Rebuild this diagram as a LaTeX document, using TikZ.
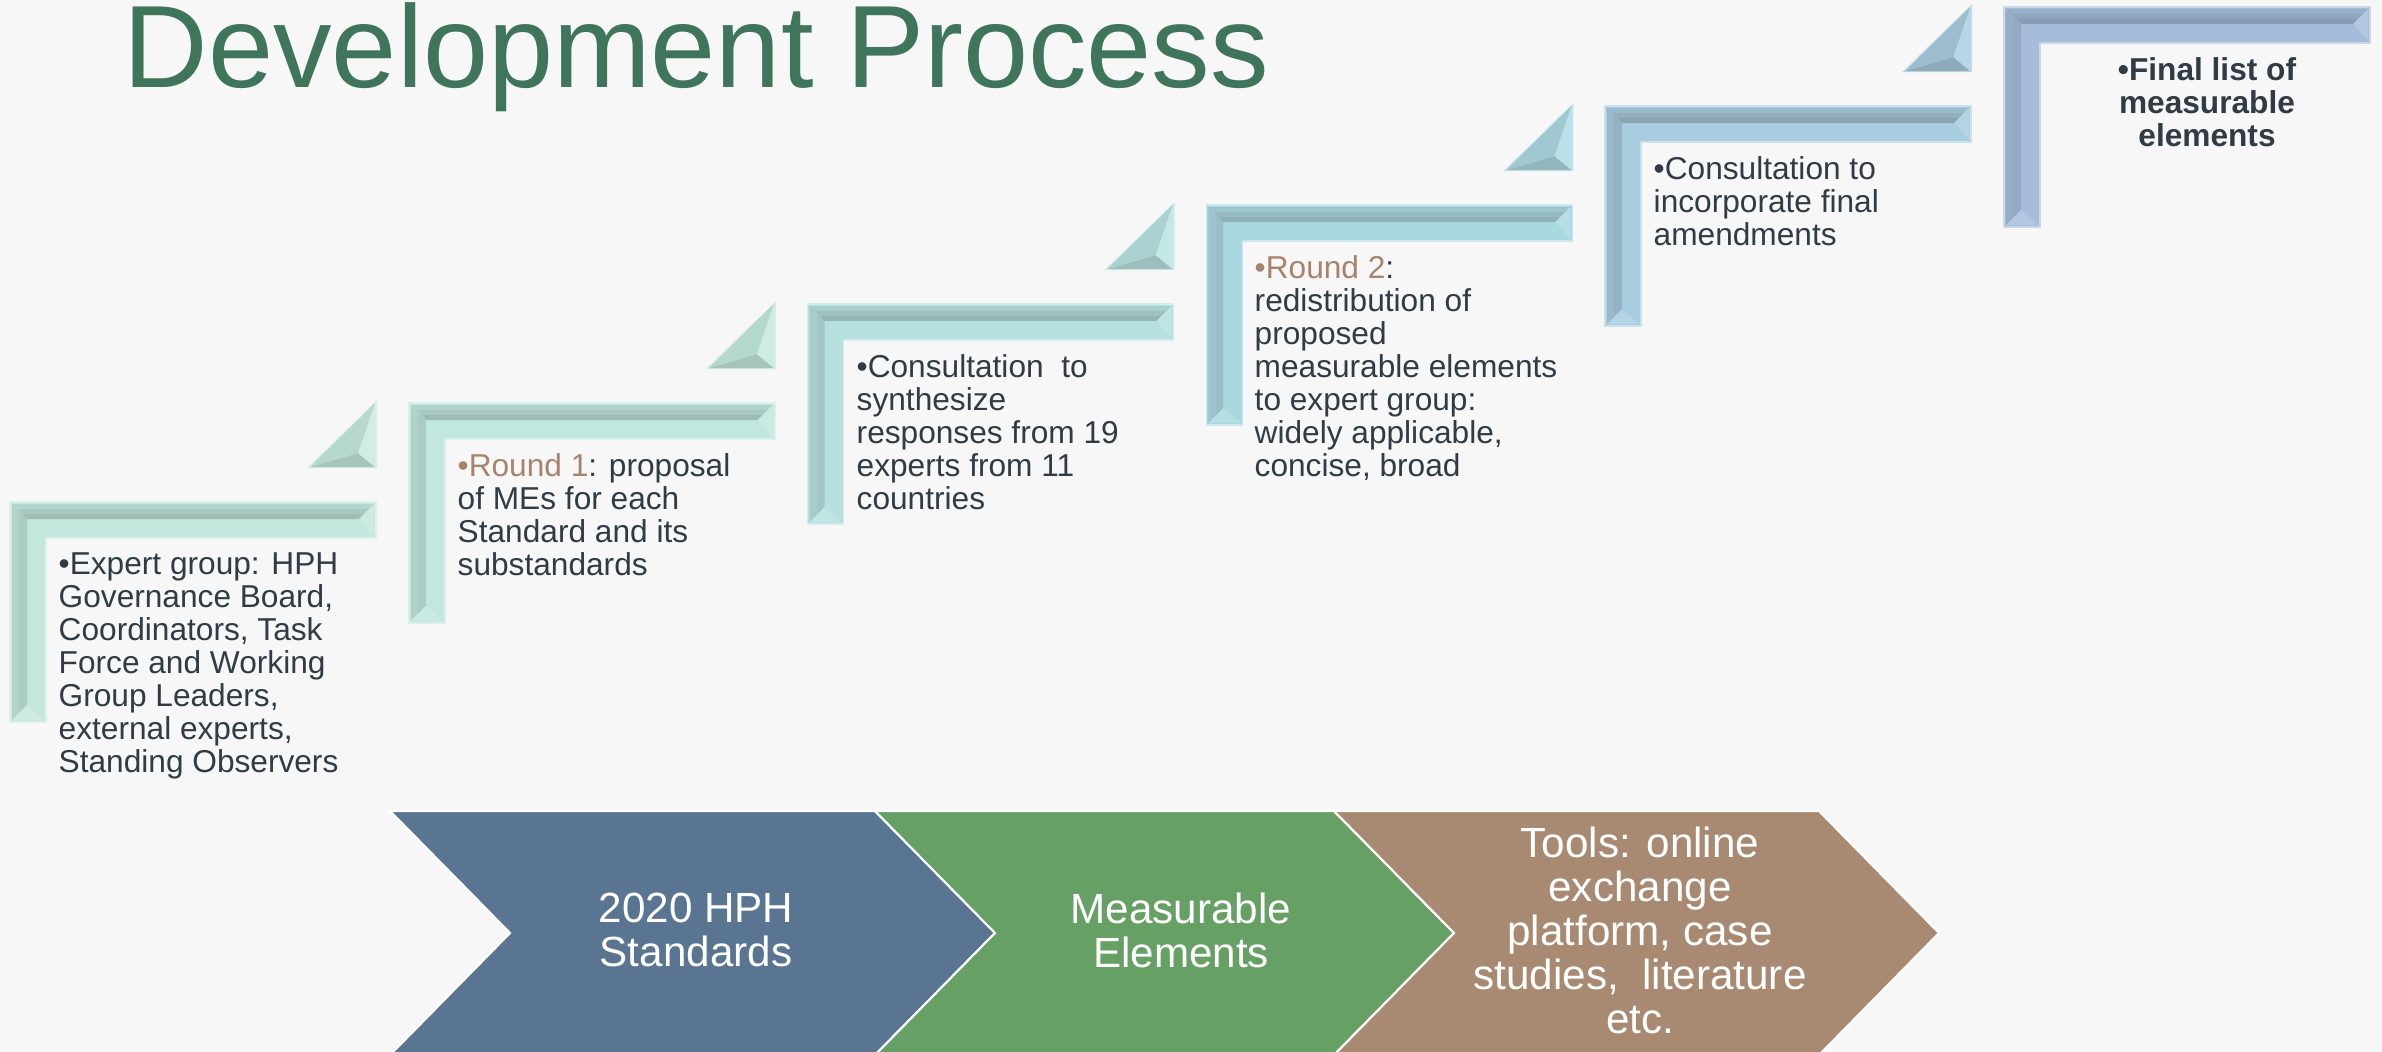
\documentclass[tikz,border=0pt]{standalone}
\usepackage{fontspec}
\setmainfont{Liberation Sans}
\usepackage{xcolor}
\usepackage{tikz}
\definecolor{paper}{HTML}{F7F7F7}
\definecolor{titlegreen}{HTML}{3E755B}
\definecolor{inkdark}{HTML}{2F3C46}
\definecolor{roundbrown}{HTML}{A8836C}
\definecolor{chevblue}{HTML}{5A7591}
\definecolor{chevgreen}{HTML}{66A064}
\definecolor{chevbrown}{HTML}{A88A72}
% frame colours, mint at the first step to steel blue at the last
\definecolor{faceA}{HTML}{C4E8DE}
\definecolor{darkA}{HTML}{97B2AA}
\definecolor{faceB}{HTML}{C1E7DE}
\definecolor{darkB}{HTML}{95B1AA}
\definecolor{faceC}{HTML}{B6E1DF}
\definecolor{darkC}{HTML}{8FABAA}
\definecolor{faceD}{HTML}{AAD8E0}
\definecolor{darkD}{HTML}{88A4AA}
\definecolor{faceE}{HTML}{A8CCE0}
\definecolor{darkE}{HTML}{8299A7}
\definecolor{faceF}{HTML}{A5BDDA}
\definecolor{darkF}{HTML}{7F93AB}

\tikzset{
  steptext/.style={font=\fontsize{9}{9.4}\selectfont, text=inkdark, align=left, inner sep=0pt, anchor=north west},
  chevtext/.style={font=\fontsize{12}{12.5}\selectfont, text=white, align=center, inner sep=0pt},
  chevron/.style={draw=white, line width=0.6pt, line join=miter},
}

\begin{document}
\begin{tikzpicture}[x=0.01cm, y=-0.01cm]
\fill[paper] (0,0) rectangle (2382,1051);
\useasboundingbox (0,0) rectangle (2382,1051);

\node[font=\fontsize{33.3}{40}\selectfont, text=titlegreen, anchor=north west, inner sep=0pt] (title) at (123,2) {Development Process};

% bevelled corner frames, climbing to the right
\foreach \i/\s in {0/A,1/B,2/C,3/D,4/E,5/F} {
  \begin{scope}[shift={({10+398.8*\i},{502-99*\i})}]
    \fill[face\s, draw=face\s!60!white, line width=0.5pt]
      (0,0) -- (366,0) -- (366,36) -- (36,36) -- (36,220) -- (0,220) -- cycle;
    % top bevel, darkening inwards
    \fill[face\s!65!dark\s] (2,2) -- (364,2) -- (359,7) -- (7,7) -- cycle;
    \fill[face\s!42!dark\s] (7,7) -- (359,7) -- (354,12) -- (12,12) -- cycle;
    \fill[face\s!22!dark\s] (12,12) -- (354,12) -- (349,17) -- (17,17) -- cycle;
    % left bevel
    \fill[face\s!62!dark\s] (2,2) -- (9,9) -- (9,211) -- (2,218) -- cycle;
    \fill[face\s!50!dark\s] (9,9) -- (17,17) -- (17,203) -- (9,211) -- cycle;
    % end caps
    \fill[face\s!85!white] (349,17) -- (364,2) -- (364,34) -- cycle;
    \fill[face\s!85!white] (17,203) -- (2,218) -- (34,218) -- cycle;
  \end{scope}
}

% small bevelled corners above each frame
\foreach \i/\s in {0/A,1/B,2/C,3/D,4/E} {
  \begin{scope}[shift={({10+398.8*\i},{502-99*\i})}]
    \fill[face\s!70!white] (297,-34) -- (367,-34) -- (367,-102) -- cycle;
    \fill[face\s!35!dark\s] (300,-35) -- (365,-35) -- (348,-49) -- cycle;
    \fill[face\s!80!white] (365,-35) -- (365,-99) -- (348,-49) -- cycle;
    \fill[face\s!70!dark\s] (365,-99) -- (300,-35) -- (348,-49) -- cycle;
  \end{scope}
}

\node[steptext] (expert) at (58,552) {•Expert group: HPH\\Governance Board,\\Coordinators, Task\\Force and Working\\Group Leaders,\\external experts,\\Standing Observers};
\node[steptext] (round1) at (457,453) {{\color{roundbrown}•Round 1}: proposal\\of MEs for each\\Standard and its\\substandards};
\node[steptext] (synth) at (856,354) {•Consultation\ \ to\\synthesize\\responses from 19\\experts from 11\\countries};
\node[steptext] (round2) at (1254,255) {{\color{roundbrown}•Round 2}:\\redistribution of\\proposed\\measurable elements\\to expert group:\\widely applicable,\\concise, broad};
\node[steptext] (amend) at (1653,156) {•Consultation to\\incorporate final\\amendments};
\node[steptext, font=\fontsize{9}{9.4}\selectfont\bfseries, align=center, anchor=north] (final) at (2207,57) {•Final list of\\measurable\\elements};

% chevrons along the bottom
\draw[chevron, fill=chevblue] (390,811) -- (875,811) -- (995,933) -- (875,1055) -- (390,1055) -- (510,933) -- cycle;
\draw[chevron, fill=chevgreen] (875,811) -- (1334,811) -- (1454,933) -- (1334,1055) -- (875,1055) -- (995,933) -- cycle;
\draw[chevron, fill=chevbrown] (1334,811) -- (1819,811) -- (1939,933) -- (1819,1055) -- (1334,1055) -- (1454,933) -- cycle;
\node[chevtext] (standards) at (696,930) {2020 HPH\\Standards};
\node[chevtext] (measures) at (1181,930) {Measurable\\Elements};
\node[chevtext] (tools) at (1640,930) {Tools: online\\exchange\\platform, case\\studies,\ \ literature\\etc.};
\end{tikzpicture}
\end{document}
